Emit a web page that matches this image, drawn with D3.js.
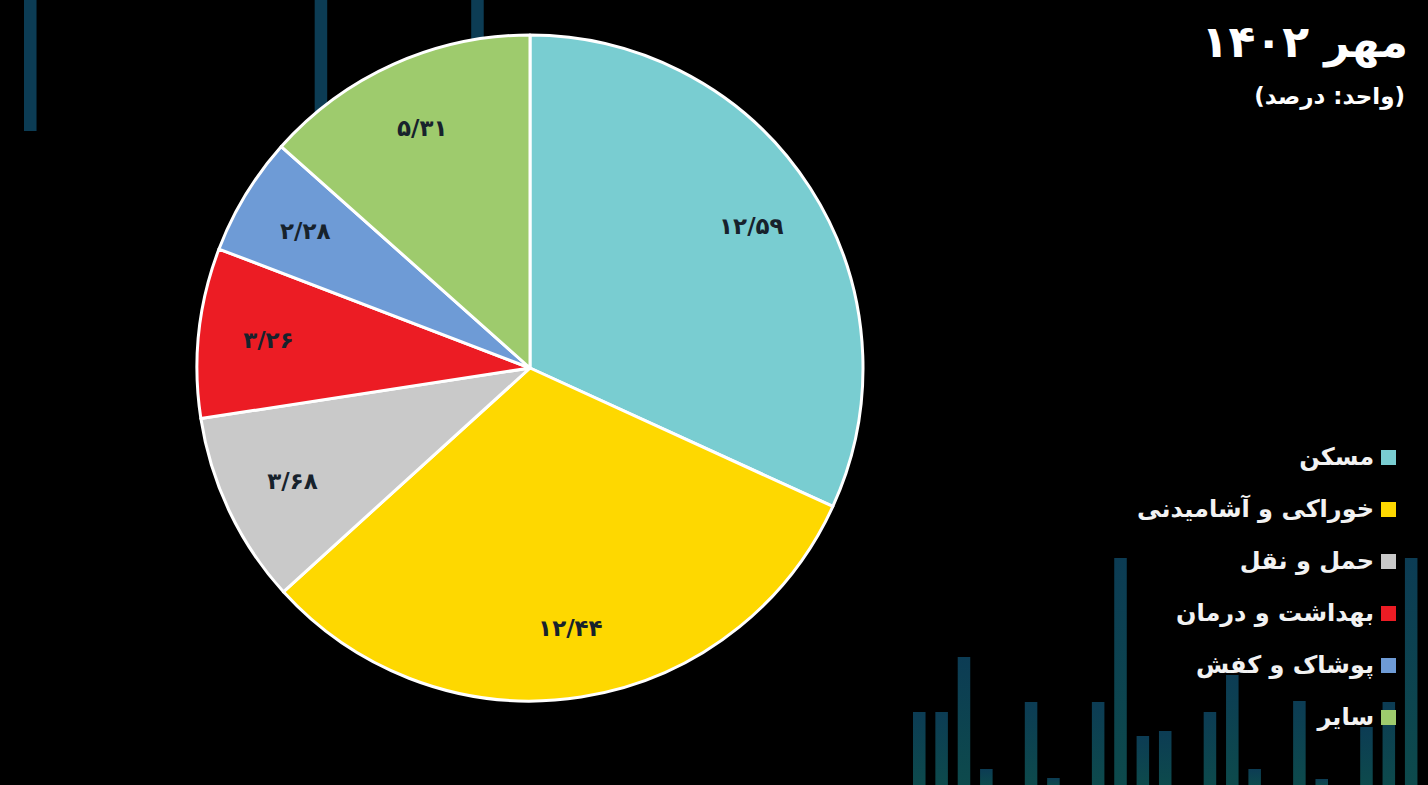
<!DOCTYPE html>
<html>
<head>
<meta charset="utf-8">
<script src="https://cdn.jsdelivr.net/npm/d3@7"></script>
<style>
  html, body { margin: 0; padding: 0; background: #000; }
  svg { display: block; }
</style>
</head>
<body>
<div id="chart"></div>
<script>
// inflation shares, Mehr 1402
const categories = ['مسکن', 'خوراکی و آشامیدنی', 'حمل و نقل', 'بهداشت و درمان', 'پوشاک و کفش', 'سایر'];
const values = [12.59, 12.44, 3.68, 3.26, 2.28, 5.31];
const colors = ['#79cdd1', '#fed800', '#c9c9c9', '#ec1c24', '#6e9bd6', '#9ecb6d'];
const title = 'مهر ۱۴۰۲';
const subtitle = '(واحد: درصد)';

// decorative background bars (heights only, one per slot)
const decoBottom = [73, 73, 128, 16, 0, 83, 7, 0, 83, 227, 49, 54, 0, 73, 110, 16, 0, 84, 6, 0, 58, 83, 227];
const decoTop = [131, 0, 0, 0, 0, 0, 0, 0, 0, 0, 0, 0, 0, 300, 0, 0, 0, 0, 0, 0, 120];

const width = 1428, height = 785;
const cx = 530, cy = 368, radius = 333;

const faDigits = s => s.replace(/\d/g, d => '۰۱۲۳۴۵۶۷۸۹'[+d]);
const fmt = v => faDigits(v.toFixed(2).replace('.', '/'));

const svg = d3.select('#chart').append('svg').attr('width', width).attr('height', height);
svg.append('rect').attr('width', width).attr('height', height).attr('fill', '#000');

const grad = svg.append('defs').append('linearGradient')
  .attr('id', 'barGrad').attr('x1', 0).attr('y1', 0).attr('x2', 0).attr('y2', 1);
grad.append('stop').attr('offset', '0%').attr('stop-color', '#0c3c54');
grad.append('stop').attr('offset', '100%').attr('stop-color', '#0d4a4c');

const deco = svg.append('g');
const xb = d3.scaleBand().domain(d3.range(decoBottom.length)).range([913, 913 + 22.36 * (decoBottom.length - 0.44)]).paddingInner(0.44);
deco.selectAll('rect.b')
  .data(decoBottom)
  .enter()
  .append('rect')
  .attr('class', 'b')
  .attr('x', (d, i) => xb(i))
  .attr('y', d => height - d)
  .attr('width', xb.bandwidth())
  .attr('height', d => d)
  .attr('fill', 'url(#barGrad)');

const xt = d3.scaleBand().domain(d3.range(decoTop.length)).range([24, 24 + 22.36 * (decoTop.length - 0.44)]).paddingInner(0.44);
deco.selectAll('rect.t')
  .data(decoTop)
  .enter()
  .append('rect')
  .attr('class', 't')
  .attr('x', (d, i) => xt(i))
  .attr('y', 0)
  .attr('width', xt.bandwidth())
  .attr('height', d => d)
  .attr('fill', '#0c3c54');

// pie
const pie = d3.pie().sort(null).value(d => d);
const arcs = pie(values);
const arc = d3.arc().innerRadius(0).outerRadius(radius);
const labelArc = d3.arc().innerRadius(radius * 0.79).outerRadius(radius * 0.79);

const g = svg.append('g').attr('transform', `translate(${cx},${cy})`);

g.selectAll('path')
  .data(arcs)
  .enter()
  .append('path')
  .attr('d', arc)
  .style('fill', (d, i) => colors[i])
  .style('stroke', '#fff')
  .style('stroke-width', 3)
  .style('stroke-linejoin', 'round');

g.selectAll('text')
  .data(arcs)
  .enter()
  .append('text')
  .attr('transform', d => `translate(${labelArc.centroid(d)})`)
  .attr('text-anchor', 'middle')
  .attr('dominant-baseline', 'central')
  .style('font-family', 'DejaVu Sans, sans-serif')
  .style('font-weight', 'bold')
  .style('font-size', '23px')
  .style('fill', '#17222c')
  .text(d => fmt(d.data));

// title
svg.append('text')
  .attr('x', 1408)
  .attr('y', 57)
  .attr('text-anchor', 'end')
  .style('font-family', 'DejaVu Sans, sans-serif')
  .style('font-weight', 'bold')
  .style('font-size', '44px')
  .style('fill', '#fff')
  .text(title);

svg.append('text')
  .attr('x', 1405)
  .attr('y', 104)
  .attr('direction', 'rtl')
  .attr('text-anchor', 'start')
  .style('font-family', 'DejaVu Sans, sans-serif')
  .style('font-weight', 'bold')
  .style('font-size', '23px')
  .style('fill', '#fff')
  .text(subtitle);

// legend
const legend = svg.append('g');
const ly = d3.scalePoint().domain(categories).range([457, 717]);

legend.selectAll('rect')
  .data(categories)
  .enter()
  .append('rect')
  .attr('x', 1381)
  .attr('y', d => ly(d) - 7)
  .attr('width', 15)
  .attr('height', 15)
  .attr('fill', (d, i) => colors[i]);

legend.selectAll('text')
  .data(categories)
  .enter()
  .append('text')
  .attr('x', 1374)
  .attr('y', d => ly(d))
  .attr('text-anchor', 'end')
  .attr('dominant-baseline', 'central')
  .style('font-family', 'DejaVu Sans, sans-serif')
  .style('font-weight', 'bold')
  .style('font-size', '24px')
  .style('fill', '#f2f2f2')
  .text(d => d);
</script>
</body>
</html>
